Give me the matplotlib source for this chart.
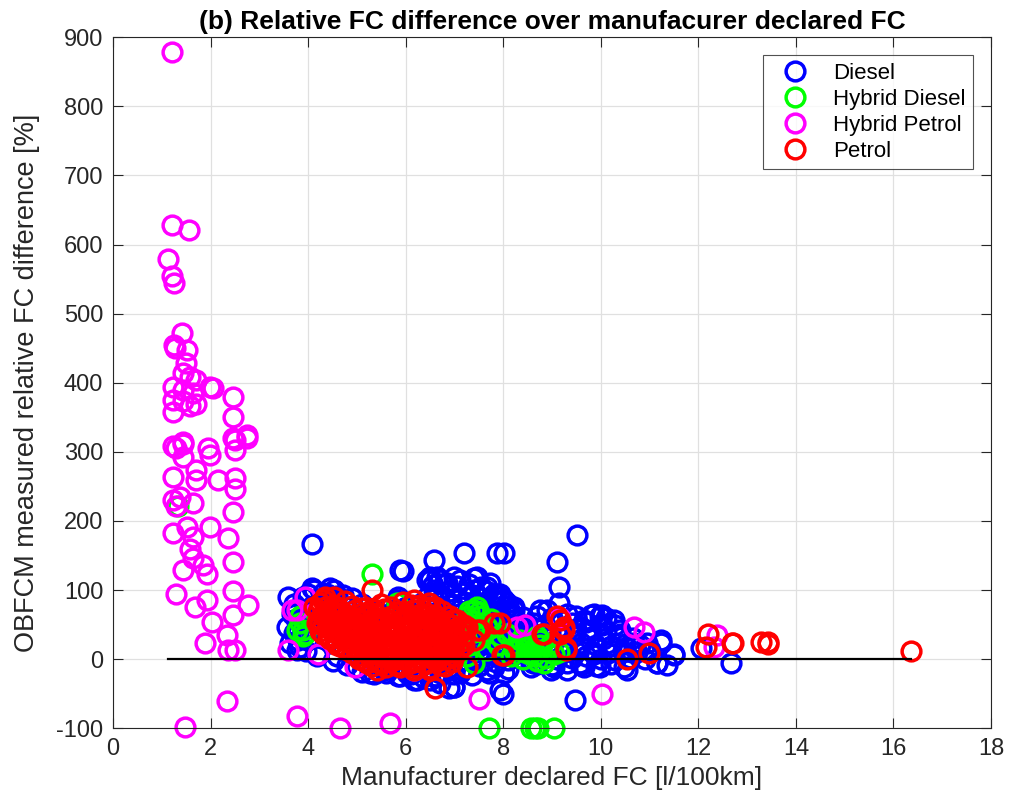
import matplotlib
matplotlib.use('Agg')
import matplotlib.pyplot as plt
import numpy as np

# Diesel (outer / scattered points)
diesel_x = [4.08, 5.94, 6.57, 7.20, 7.87, 8.00, 6.88, 6.98, 9.52, 9.10, 9.14, 9.14, 9.48, 12.66, 12.05,
            8.01, 10.03, 10.03, 11.50, 11.36, 11.16, 11.23, 10.68, 10.47,
            3.59, 3.66, 3.56, 3.63, 3.97, 4.11, 4.52, 4.72, 4.07, 4.45, 3.70, 3.83, 4.21,
            4.59, 5.00, 5.27, 5.41, 5.85, 5.75, 6.44, 6.64, 6.57, 6.85, 7.12, 7.39, 7.67, 7.80, 8.01, 8.21,
            5.75, 6.02, 6.23, 6.71, 7.12, 7.67, 8.01,
            6.50, 6.71, 6.98, 7.46, 7.73, 7.94, 8.08, 8.21, 8.35, 6.71, 6.98, 7.94,
            8.56, 9.04, 9.58, 9.86, 9.86, 9.72, 8.90,
            8.22, 8.76, 9.31, 9.65, 9.99, 10.27, 10.40, 10.68, 10.95, 11.23, 11.50, 11.16, 10.54,
            9.99, 9.65, 9.31, 8.97, 8.61,
            3.90, 4.38, 3.77, 4.18, 5.55, 5.89, 6.16, 6.50, 5.89, 5.82, 6.50, 6.44,
            4.2, 4.5, 4.8, 5.1, 5.4, 5.7, 6.0, 6.3, 4.3, 4.6, 4.9, 5.2, 5.5, 5.8, 6.1, 6.4,
            4.4, 4.7, 5.0, 5.3, 5.6, 5.9, 6.2, 6.5, 4.1, 3.9, 3.8,
            3.7, 3.75, 3.7, 3.8, 3.95, 4.05, 3.9, 4.0, 4.3, 4.6, 4.9, 5.1, 5.35, 5.6, 5.85,
            6.1, 6.35, 6.6, 4.8, 4.5]
diesel_y = [167, 128, 144, 154, 153, -51, -42, -40, 180, 140, 104, 81, -59, -5, 16,
            153, 64, 49, 6, -8, -6, 23, 18, -11,
            90, 66, 47, 23, 28, 100, 100, 93, 103, 103, 71, 18, 6,
            4, -11, -20, -6, 90, 71, 115, 119, 100, 110, 115, 117, 105, 95, 86, 76,
            -11, -20, -30, -20, -20, -16, -20,
            119, 115, 119, 119, 110, 95, 81, 62, 47, -35, -40, -45,
            -11, -11, -6, 8, 66, 42, 71,
            71, 71, 66, 57, 62, 57, 37, 23, 23, 28, 8, -6, -16,
            -11, -11, -16, -16, -6,
            90, 95, 13, 4, -16, -25, -30, -30, 129, 86, 115, 90,
            80, 85, 75, 80, 70, 65, 75, 80, 60, 50, 55, 45, 50, 40, 45, 55,
            30, 20, 25, 15, 20, 10, 15, 5, 45, 55, 40,
            80, 58, 38, 28, 12, 75, 62, 95, 96, 92, 88, -18, -22, -20, -24,
            -22, -26, -24, -8, -2]

# Diesel (dense core, 6.5 - 11 l/100km)
diesel_core_x = [6.55, 6.8, 7.05, 7.3, 7.55,
                 6.65, 6.9, 7.15, 7.4, 7.65, 7.85,
                 6.55, 6.8, 7.05, 7.3, 7.55, 7.8, 8.0,
                 6.65, 6.9, 7.15, 7.4, 7.65, 7.9, 8.1,
                 6.6, 6.85, 7.1, 7.35, 7.6, 7.85, 8.15,
                 6.7, 6.95, 7.2, 7.45, 7.7, 7.95, 8.2,
                 6.65, 6.9, 7.15, 7.4, 7.65, 7.9, 8.15,
                 6.75, 7.0, 7.25, 7.5, 7.75, 8.0, 8.25,
                 6.7, 6.95, 7.2, 7.45, 7.7, 7.95, 8.2,
                 6.8, 7.05, 7.3, 7.55, 7.8, 8.05, 8.3,
                 6.75, 7.0, 7.25, 7.5, 7.75, 8.0, 8.25,
                 6.85, 7.1, 7.35, 7.6, 7.85, 8.1,
                 6.9, 7.2, 7.5, 7.8, 8.1,
                 7.0, 7.35, 7.7,
                 8.4, 8.7, 9.0, 9.5, 9.8, 10.1,
                 8.35, 8.6, 8.85, 9.4, 9.7, 10.0, 10.3,
                 8.45, 8.7, 8.95, 9.2, 9.5, 9.8, 10.1, 10.4,
                 8.4, 8.65, 8.9, 9.15, 9.45, 9.75, 10.05, 10.35, 10.65,
                 8.5, 8.75, 9.0, 9.3, 9.6, 9.9, 10.2, 10.5, 10.8,
                 8.45, 8.7, 8.95, 9.25, 9.55, 9.85, 10.15, 10.45, 10.75, 11.0,
                 8.55, 8.8, 9.1, 9.4, 9.7, 10.0, 10.3, 10.6, 10.9,
                 8.7, 9.0, 9.3, 9.6, 9.9, 10.2]
diesel_core_y = [107, 110, 106, 109, 105,
                 97, 99, 96, 100, 98, 95,
                 87, 89, 86, 90, 88, 85, 87,
                 77, 79, 76, 80, 78, 75, 77,
                 67, 69, 66, 70, 68, 65, 67,
                 57, 59, 56, 60, 58, 55, 57,
                 47, 49, 46, 50, 48, 45, 47,
                 37, 39, 36, 40, 38, 35, 37,
                 27, 29, 26, 30, 28, 25, 27,
                 17, 19, 16, 20, 18, 15, 17,
                 7, 9, 6, 10, 8, 5, 7,
                 -1, -3, 0, -2, -4, -1,
                 -11, -13, -10, -12, -14,
                 -21, -23, -20,
                 61, 63, 60, 62, 64, 59,
                 51, 53, 50, 52, 54, 51, 49,
                 41, 43, 40, 42, 44, 41, 39, 42,
                 31, 33, 30, 32, 34, 31, 29, 32, 30,
                 21, 23, 20, 22, 24, 21, 19, 22, 20,
                 11, 13, 10, 12, 14, 11, 9, 12, 10, 13,
                 1, 3, 0, 2, 4, 1, -1, 2, 0,
                 -7, -9, -6, -8, -10, -7]

# Hybrid Diesel
hdiesel_x = [7.70, 8.56, 8.65, 8.72, 9.04, 5.31, 3.77, 3.90, 3.83, 3.90, 3.83, 3.94, 5.82,
             7.39, 7.53, 7.67, 7.80, 8.08, 8.21, 7.26, 7.39,
             7.46, 7.26, 7.67, 7.94, 8.21, 8.49, 8.76, 8.97, 8.69, 8.35, 7.67, 7.46,
             8.08, 8.15, 8.49, 8.62, 8.83, 9.04, 8.76, 1.34,
             7.3, 7.5, 7.35, 7.55, 7.75, 7.4, 7.6, 7.9,
             8.3, 8.45, 8.6, 8.75, 8.9, 8.4, 8.55, 8.7, 8.85, 9.15]
hdiesel_y = [-99, -99, -99, -99, -99, 123, 42, 33, 62, 42, 52, 37, 81,
             71, 62, 47, 28, 37, 18, 4, -6,
             76, 62, 47, 33, 13, 9, 13, 23, 33, 28, 13, 28,
             37, 4, 18, 4, -6, 8, 28, 221,
             70, 68, 55, 52, 58, 40, 38, 20,
             18, 22, 15, 20, 12, 0, 8, -2, 2, 10]

# Hybrid Petrol
hpetrol_x = [1.21, 1.21, 1.55, 1.12, 1.21, 1.25, 1.42, 1.25, 1.51, 1.26, 1.49,
             1.44, 1.57, 1.71, 1.23, 1.44, 1.64, 1.99, 2.05, 1.23, 1.44, 1.71, 1.23, 1.57,
             2.46, 2.46, 2.46, 2.74, 1.23, 1.44, 1.95,
             1.30, 1.44, 1.44, 1.99, 2.50, 2.74, 2.50, 1.23, 1.71, 1.71, 2.16, 2.50, 2.50,
             1.23, 1.37, 1.30, 1.64, 2.46, 1.23, 1.51, 1.64, 1.99, 2.36, 1.57,
             1.64, 1.85, 1.92, 1.44, 2.46, 1.30, 1.68, 1.92, 2.46, 2.77, 2.02, 2.46,
             1.88, 2.33, 2.36, 2.50, 3.59, 3.66,
             2.33, 1.47, 3.77, 4.65, 4.21, 5.67, 4.96, 3.77, 3.94,
             7.50, 6.16, 8.28, 8.45, 9.17, 10.68, 10.88, 10.03, 12.39, 12.32]
hpetrol_y = [878, 628, 621, 579, 554, 545, 472, 455, 448, 450, 429,
             414, 409, 404, 394, 390, 385, 394, 392, 375, 373, 370, 358, 366,
             380, 351, 320, 324, 308, 312, 305,
             305, 315, 293, 296, 317, 320, 303, 264, 274, 259, 259, 262, 247,
             230, 235, 221, 226, 213, 182, 192, 177, 192, 175, 160,
             146, 136, 124, 129, 141, 95, 76, 86, 98, 78, 54, 64,
             23, 35, 13, 13, 13, 71,
             -61, -98, -82, -99, 8, -92, -11, 71, 90,
             -57, -16, 47, 49, 59, 47, 40, -51, 35, 18]

# Petrol (outer / scattered points)
petrol_x = [16.37, 13.42, 13.43, 12.72, 12.19, 12.15, 12.70, 13.28, 10.54, 10.99,
            9.17, 9.24, 9.17, 9.28, 9.10, 8.80, 8.01, 7.94,
            6.61, 6.50, 7.26, 7.98, 7.80, 7.53, 7.39, 7.19, 8.83, 9.24, 9.28,
            5.31, 7.46,
            4.35, 4.11, 4.38, 4.65, 4.18, 4.45, 4.79, 6.16, 6.47,
            4.31, 4.52, 6.44, 5.41, 5.89, 6.16, 6.50]
petrol_y = [12, 25, 22, 23, 37, 18, 23, 25, 1, 9,
            57, 47, 37, 16, 62, 37, 6, 52,
            -42, 76, -11, 6, 52, 42, 28, 42, 37, 42, 13,
            100, 42,
            90, 76, 66, 71, 52, 47, 52, 86, 81,
            86, 90, 76, -16, -11, -16, -16]

# Petrol (dense core, 4.2 - 7.3 l/100km)
petrol_core_x = [4.25, 4.5, 4.75, 5.1, 5.5, 5.95, 6.3, 6.6,
                 4.2, 4.45, 4.7, 4.95, 5.25, 5.55, 5.85, 6.15, 6.45, 6.75,
                 4.35, 4.6, 4.85, 5.15, 5.45, 5.75, 6.05, 6.35, 6.65, 6.95,
                 4.25, 4.5, 4.8, 5.05, 5.35, 5.65, 5.95, 6.25, 6.55, 6.85, 7.15,
                 4.4, 4.65, 4.9, 5.2, 5.5, 5.8, 6.1, 6.4, 6.7, 7.0, 7.25,
                 4.3, 4.55, 4.8, 5.1, 5.4, 5.7, 6.0, 6.3, 6.6, 6.9, 7.2,
                 4.45, 4.7, 4.95, 5.25, 5.55, 5.85, 6.15, 6.45, 6.75, 7.05,
                 4.6, 4.85, 5.1, 5.4, 5.7, 6.0, 6.3, 6.6, 6.9, 7.2,
                 4.8, 5.05, 5.3, 5.6, 5.9, 6.2, 6.5, 6.8, 7.1,
                 5.0, 5.25, 5.5, 5.8, 6.1, 6.4, 6.7, 7.0,
                 5.15, 5.45, 5.75, 6.05, 6.35, 6.65, 6.95,
                 5.3, 5.6, 5.9, 6.2, 6.5, 6.8,
                 4.35, 4.6, 4.9, 5.3, 5.7, 6.1, 6.45,
                 4.3, 4.55, 4.8, 5.1, 5.4, 5.7, 6.0, 6.3, 6.6, 6.9,
                 4.2, 4.45, 4.7, 5.0, 5.3, 5.6, 5.9, 6.2, 6.5, 6.8, 7.05,
                 4.3, 4.55, 4.85, 5.15, 5.45, 5.75, 6.05, 6.35, 6.65, 6.95, 7.2,
                 4.25, 4.5, 4.75, 5.05, 5.35, 5.65, 5.95, 6.25, 6.55, 6.85, 7.1,
                 4.4, 4.65, 4.9, 5.2, 5.5, 5.8, 6.1, 6.4, 6.7, 7.0,
                 4.55, 4.8, 5.05, 5.35, 5.65, 5.95, 6.25, 6.55, 6.85, 7.15,
                 4.7, 4.95, 5.2, 5.5, 5.8, 6.1, 6.4, 6.7, 7.0,
                 4.9, 5.15, 5.4, 5.7, 6.0, 6.3, 6.6, 6.9,
                 5.05, 5.35, 5.65, 5.95, 6.25, 6.55, 6.85,
                 5.2, 5.5, 5.8, 6.1, 6.4, 6.7]
petrol_core_y = [82, 78, 84, 74, 80, 83, 79, 76,
                 70, 72, 67, 71, 69, 73, 68, 71, 66, 70,
                 61, 63, 59, 62, 60, 64, 58, 62, 60, 57,
                 53, 55, 52, 56, 54, 51, 55, 53, 56, 52, 50,
                 45, 47, 44, 46, 48, 43, 46, 45, 47, 44, 46,
                 37, 39, 36, 38, 40, 37, 39, 36, 38, 37, 35,
                 29, 31, 28, 30, 32, 29, 31, 28, 30, 29,
                 21, 23, 20, 22, 24, 21, 23, 20, 22, 21,
                 13, 15, 12, 14, 16, 13, 15, 12, 14,
                 5, 7, 4, 6, 8, 5, 7, 4,
                 -2, -4, -1, -3, -5, -2, -4,
                 -10, -12, -9, -11, -13, -10,
                 76, 75, 77, 73, 76, 78, 74,
                 65, 66, 64, 67, 65, 63, 66, 65, 64, 63,
                 57, 58, 56, 59, 57, 58, 56, 59, 57, 55, 56,
                 49, 51, 50, 49, 51, 50, 48, 50, 51, 49, 50,
                 41, 42, 43, 41, 42, 44, 41, 42, 43, 41, 40,
                 33, 34, 35, 33, 34, 35, 33, 34, 33, 34,
                 25, 26, 27, 25, 26, 27, 25, 26, 25, 26,
                 17, 18, 19, 17, 18, 19, 17, 18, 17,
                 9, 10, 11, 9, 10, 11, 9, 10,
                 1, 2, 0, 1, 2, 0, 1,
                 -6, -7, -8, -6, -7, -8]

groups = [
    ("Diesel", diesel_x + diesel_core_x, diesel_y + diesel_core_y, (0, 0, 1)),
    ("Hybrid Diesel", hdiesel_x, hdiesel_y, (0, 1, 0)),
    ("Hybrid Petrol", hpetrol_x, hpetrol_y, (1, 0, 1)),
    ("Petrol", petrol_x + petrol_core_x, petrol_y + petrol_core_y, (1, 0, 0)),
]

plt.rcParams['font.family'] = ['Liberation Sans', 'DejaVu Sans']
plt.rcParams['axes.unicode_minus'] = False

fig = plt.figure(figsize=(10.28, 8.02), dpi=100)
ax = fig.add_axes([0.110, 0.0919, 0.854, 0.8616])

for name, xs, ys, col in groups:
    ax.plot(xs, ys, 'o', mfc='none', mec=col, ms=13.5, mew=2.5, label=name, clip_on=False)

all_x = [x for g in groups for x in g[1]]
ax.plot([min(all_x), max(all_x)], [0, 0], '-', color='k', lw=1.6)

ax.set_xlim(0, 18)
ax.set_ylim(-100, 900)
ax.set_xticks(np.arange(0, 19, 2))
ax.set_yticks(np.arange(-100, 901, 100))
ax.tick_params(direction='in', length=7, labelsize=17, top=True, right=True, colors='#262626',
               labelcolor='#262626', pad=7)
ax.grid(True, color='#e0e0e0', lw=0.9)
ax.set_axisbelow(True)
for s in ax.spines.values():
    s.set_color('#262626')

ax.set_xlabel("Manufacturer declared FC [l/100km]", fontsize=19, color='#262626', labelpad=4)
ax.set_ylabel("OBFCM measured relative FC difference [%]", fontsize=19.5, color='#262626',
              labelpad=12)
ax.set_title("(b) Relative FC difference over manufacurer declared FC", fontsize=19,
             fontweight='bold', pad=6)

leg = ax.legend(loc='upper right', fontsize=16, frameon=True, fancybox=False,
                edgecolor='#262626', borderpad=0.35, handletextpad=0.6, labelspacing=0.22,
                borderaxespad=0.8, handlelength=2.2)
leg.get_frame().set_linewidth(0.8)

plt.savefig("out.png", dpi=100)
